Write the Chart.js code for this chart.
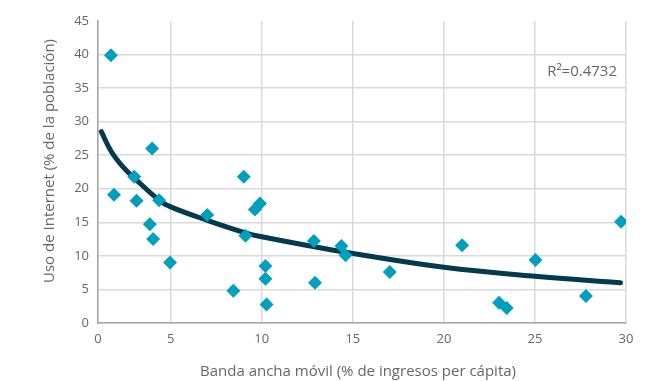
<!DOCTYPE html>
<html>
<head>
<meta charset="utf-8">
<script src="https://cdn.jsdelivr.net/npm/chart.js@4.4.1/dist/chart.umd.min.js"></script>
<style>
  html, body { margin: 0; padding: 0; background: #fff; }
  #wrap { width: 659px; height: 381px; }
</style>
</head>
<body>
<div id="wrap"><canvas id="internetChart"></canvas></div>
<script>
// values
const bandaX = [0.89, 3.72, 2.49, 1.1, 2.65, 4.2, 3.56, 3.79, 4.95, 9.01, 7.0, 9.9, 9.62, 9.1, 10.2,
  10.2, 8.44, 10.26, 12.86, 12.92, 14.37, 14.6, 17.03, 21.0, 23.03, 23.45, 25.03, 27.8, 29.73];
const usoY = [39.9, 26.0, 21.8, 19.1, 18.2, 18.3, 14.7, 12.5, 9.0, 21.8, 16.1, 17.8, 16.9, 13.0, 8.5,
  6.6, 4.8, 2.75, 12.2, 6.0, 11.46, 10.1, 7.6, 11.6, 3.0, 2.25, 9.37, 4.04, 15.1];

// logarithmic trend line as drawn in the reference
const trendX = [0.23, 0.9, 1.7, 2.5, 4.2, 5, 7, 9.2, 10, 12.9, 15, 20, 25, 29.7];
const trendY = [28.5, 25.6, 23.3, 21.6, 18.3, 17.3, 15.3, 13.35, 12.85, 11.35, 10.35, 8.3, 6.95, 6.0];

const xTicks = [0, 5, 10, 15, 20, 25, 30];
const yTicks = [0, 5, 10, 15, 20, 25, 30, 35, 40, 45];
const rSquared = "R\u00b2=0.4732";
const xTitle = "Banda ancha móvil (% de ingresos per cápita)";
const yTitle = "Uso de Internet (% de la población)";

const FONT = "'Open Sans', Lato, sans-serif";
const TEXT = "#666666";

// the first interval (0-5) is drawn narrower than the others in the original
const X_BREAK = 5;
const X_BREAK_FRAC = 0.1378;
class PiecewiseScale extends Chart.LinearScale {
  getPixelForValue(value) {
    if (value === null || isNaN(value)) return NaN;
    let f;
    if (value <= X_BREAK) f = (value - this.min) / (X_BREAK - this.min) * X_BREAK_FRAC;
    else f = X_BREAK_FRAC + (value - X_BREAK) / (this.max - X_BREAK) * (1 - X_BREAK_FRAC);
    return this.getPixelForDecimal(f);
  }
  getValueForPixel(pixel) {
    const f = this.getDecimalForPixel(pixel);
    if (f <= X_BREAK_FRAC) return this.min + f / X_BREAK_FRAC * (X_BREAK - this.min);
    return X_BREAK + (f - X_BREAK_FRAC) / (1 - X_BREAK_FRAC) * (this.max - X_BREAK);
  }
}
PiecewiseScale.id = "piecewise";
PiecewiseScale.defaults = Chart.LinearScale.defaults;
Chart.register(PiecewiseScale);

const textPlugin = {
  id: "chartTexts",
  afterDraw(chart) {
    const { ctx, chartArea } = chart;
    ctx.save();
    ctx.fillStyle = TEXT;
    ctx.font = "15px " + FONT;
    ctx.textBaseline = "middle";
    // R² label
    ctx.textAlign = "right";
    ctx.fillText(rSquared, chartArea.right - 9, chartArea.top + 51);
    // x title
    ctx.textAlign = "center";
    ctx.fillText(xTitle, (chartArea.left + chartArea.right) / 2 - 4, 372);
    // y title
    ctx.translate(50, 161);
    ctx.rotate(-Math.PI / 2);
    ctx.fillText(yTitle, 0, 0);
    ctx.restore();
  }
};

const points = bandaX.map((x, i) => ({ x: x, y: usoY[i] }));
const trend = trendX.map((x, i) => ({ x: x, y: trendY[i] }));

new Chart(document.getElementById("internetChart"), {
  type: "scatter",
  data: {
    datasets: [
      {
        data: points,
        pointStyle: "rectRot",
        pointRadius: 7,
        pointHoverRadius: 7,
        backgroundColor: "#00a0bd",
        borderWidth: 0,
      },
      {
        type: "line",
        data: trend,
        showLine: true,
        borderColor: "#033a4d",
        borderWidth: 5,
        borderCapStyle: "round",
        tension: 0.4,
        pointRadius: 0,
        fill: false,
      },
    ],
  },
  options: {
    responsive: true,
    maintainAspectRatio: false,
    animation: false,
    layout: { padding: { top: 21, right: 33, left: 0, bottom: 0 } },
    plugins: {
      legend: { display: false },
      tooltip: { enabled: false },
    },
    scales: {
      x: {
        type: "piecewise",
        min: 0,
        max: 30,
        afterBuildTicks: (s) => { s.ticks = xTicks.map((v) => ({ value: v })); },
        afterFit: (s) => { s.height = 58; },
        grid: { color: "#d9d9d9", lineWidth: 1.5, drawTicks: false },
        border: { color: "#a6a6a6", width: 1.5 },
        ticks: { padding: 8, maxRotation: 0, color: TEXT, font: { family: FONT, size: 13 } },
      },
      y: {
        min: 0,
        max: 45,
        afterBuildTicks: (s) => { s.ticks = yTicks.map((v) => ({ value: v })); },
        afterFit: (s) => { s.width = 98; },
        grid: {
          color: (c) => (c.tick && c.tick.value === 45 ? "rgba(0,0,0,0)" : "#d9d9d9"),
          lineWidth: 1.5,
          drawTicks: false,
        },
        border: { color: "#a6a6a6", width: 1.5 },
        ticks: { padding: 9, color: TEXT, font: { family: FONT, size: 13 } },
      },
    },
  },
  plugins: [textPlugin],
});
</script>
</body>
</html>
